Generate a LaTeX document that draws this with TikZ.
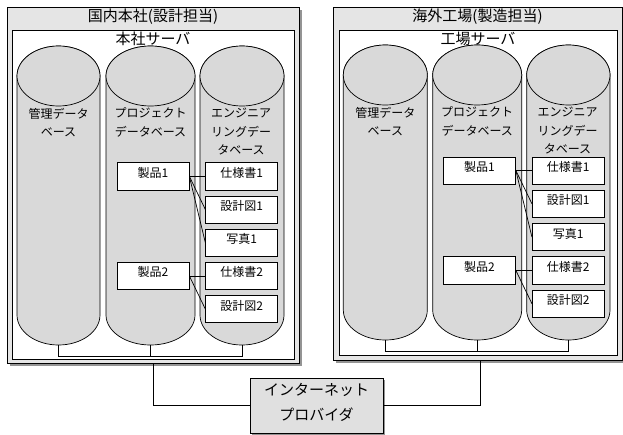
\documentclass[tikz,border=0pt]{standalone}
\usepackage{fontspec}
\setmainfont{Noto Sans CJK JP}
\usetikzlibrary{shadows}
\tikzset{
  outerbox/.style={draw=black, line width=0.8pt, fill=black!10, inner sep=0,
    drop shadow={shadow xshift=2.5pt, shadow yshift=-2.5pt, fill=black!70, opacity=0.6}},
  innerbox/.style={draw=black, line width=0.7pt, fill=white, inner sep=0},
  cylfill/.style={draw=black, line width=0.7pt, fill=black!15},
  itembox/.style={draw=black, line width=0.7pt, fill=white, inner sep=0,
    minimum width=72pt, text height=14.6pt, text depth=12.6pt,
    font=\fontsize{12}{14}\selectfont},
  ttl/.style={font=\fontsize{15}{18}\selectfont, inner sep=0},
  cyltxt/.style={font=\fontsize{12}{18.5}\selectfont, align=center, inner sep=0},
  provbox/.style={draw=black, line width=0.8pt, fill=black!12, inner sep=0,
    drop shadow={shadow xshift=2pt, shadow yshift=-2pt, fill=black!70, opacity=0.6}},
  provtxt/.style={font=\fontsize{15}{25}\selectfont, align=center, inner sep=0},
  wire/.style={line width=0.7pt},
}
\newcommand\dbcyl[5]{%
  \pgfmathsetmacro\cylcx{(#1+#2)/2}%
  \pgfmathsetmacro\cylrx{(#2-#1)/2}%
  \draw[cylfill] (#1,#3+30) -- (#1,#4-30)
    arc[start angle=180,end angle=0,x radius=\cylrx,y radius=30]
    -- (#2,#3+30)
    arc[start angle=0,end angle=-180,x radius=\cylrx,y radius=30] -- cycle;
  \draw[cylfill] (\cylcx,#3+30) ellipse[x radius=\cylrx,y radius=30];
  \coordinate (#5) at (\cylcx,#4);%
}
\begin{document}
\begin{tikzpicture}[x=1pt,y=-1pt]
\useasboundingbox (0,0) rectangle (623,434);

% ---------- left site ----------
\node[outerbox, minimum width=292pt, minimum height=356pt] (hqo) at (153,185) {};
\node[innerbox, minimum width=282pt, minimum height=329pt] (hqi) at (153,194.5) {};
\node[ttl] (hqt) at (153,16.5) {国内本社(設計担当)};
\node[ttl] (hqs) at (153,38.5) {本社サーバ};

\dbcyl{17}{100}{46}{345}{hc1}
\dbcyl{106}{195}{46}{345}{hc2}
\dbcyl{200}{284}{46}{345}{hc3}

\node[cyltxt] (ht1) at (58.5,122.5) {管理データ\\ベース};
\node[cyltxt] (ht2) at (150.5,122.5) {プロジェクト\\データベース};
\node[cyltxt] (ht3) at (241,131.5) {エンジニア\\リングデー\\タベース};

\node[itembox] (hp1) at (153,176.3) {製品1};
\node[itembox] (hs1) at (241.7,176.3) {仕様書1};
\node[itembox] (hd1) at (241.7,209.5) {設計図1};
\node[itembox] (hf1) at (241.7,242.7) {写真1};
\node[itembox] (hs2) at (241.7,275.9) {仕様書2};
\node[itembox] (hd2) at (241.7,309.1) {設計図2};
\node[itembox] (hp2) at (153,275.9) {製品2};

\draw[wire] (hp1.east) -- (hs1.west);
\draw[wire] (hp1.east) -- (hd1.west);
\draw[wire] (hp1.east) -- (hf1.west);
\draw[wire] (hp2.east) -- (hs2.west);
\draw[wire] (hp2.east) -- (hd2.west);

\coordinate (hbus) at (150.5,356);
\draw[wire] (hc1) -- (hc1 |- hbus) -- (hc3 |- hbus) -- (hc3);
\draw[wire] (hc2) -- (hc2 |- hbus);

% ---------- right site ----------
\node[outerbox, minimum width=289pt, minimum height=353pt] (fqo) at (477.5,183.5) {};
\node[innerbox, minimum width=278pt, minimum height=325pt] (fqi) at (478,192.5) {};
\node[ttl] (fqt) at (477.5,16.5) {海外工場(製造担当)};
\node[ttl] (fqs) at (478,38.5) {工場サーバ};

\dbcyl{343.3}{427.3}{45}{340}{fc1}
\dbcyl{432.7}{521.7}{45}{340}{fc2}
\dbcyl{526.7}{610}{45}{340}{fc3}

\node[cyltxt] (ft1) at (385.3,121.5) {管理データ\\ベース};
\node[cyltxt] (ft2) at (477.2,121.5) {プロジェクト\\データベース};
\node[cyltxt] (ft3) at (567.5,130.5) {エンジニア\\リングデー\\タベース};

\node[itembox] (fp1) at (479.5,170.5) {製品1};
\node[itembox] (fs1) at (568.3,170.5) {仕様書1};
\node[itembox] (fd1) at (568.3,203.8) {設計図1};
\node[itembox] (ff1) at (568.3,237.1) {写真1};
\node[itembox] (fs2) at (568.3,270.4) {仕様書2};
\node[itembox] (fd2) at (568.3,303.7) {設計図2};
\node[itembox] (fp2) at (479.5,270.4) {製品2};

\draw[wire] (fp1.east) -- (fs1.west);
\draw[wire] (fp1.east) -- (fd1.west);
\draw[wire] (fp1.east) -- (ff1.west);
\draw[wire] (fp2.east) -- (fs2.west);
\draw[wire] (fp2.east) -- (fd2.west);

\coordinate (fbus) at (477.2,351);
\draw[wire] (fc1) -- (fc1 |- fbus) -- (fc3 |- fbus) -- (fc3);
\draw[wire] (fc2) -- (fc2 |- fbus);

% ---------- provider ----------
\node[provbox, minimum width=133pt, minimum height=55pt] (isp) at (316.5,405.8) {};
\node[provtxt] (ispt) at (316.5,402.5) {インターネット\\プロバイダ};

\draw[wire] (hqo.south) |- (isp.west);
\draw[wire] ([xshift=2.5pt]fqo.south) |- (isp.east);
\end{tikzpicture}
\end{document}
